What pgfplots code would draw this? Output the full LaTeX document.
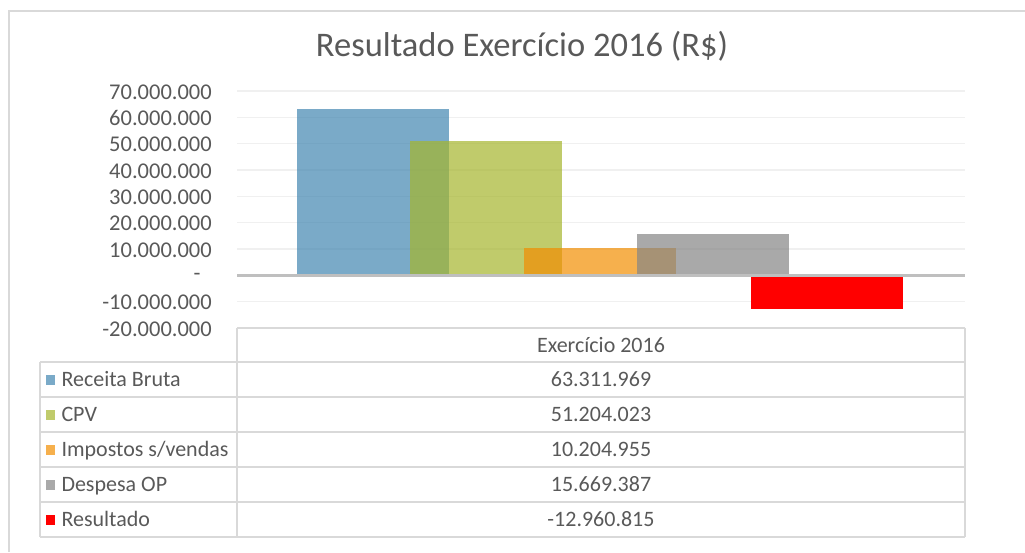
\documentclass[border=0pt]{standalone}
\usepackage{fontspec}
\setmainfont{Carlito}
\usepackage{pgfplots}
\pgfplotsset{compat=1.18}
\definecolor{txt}{HTML}{595959}
\definecolor{gridc}{HTML}{F0F0F0}
\definecolor{bord}{HTML}{D9D9D9}
\definecolor{zeroc}{HTML}{BFBFBF}
\definecolor{cblue}{RGB}{65,134,176}
\definecolor{cgreen}{RGB}{165,181,44}
\definecolor{corange}{RGB}{242,142,2}
\definecolor{cgray}{RGB}{133,133,133}
\definecolor{cred}{RGB}{255,0,0}
\begin{document}
\begin{tikzpicture}[x=1pt,y=1pt]
\useasboundingbox (0,0) rectangle (1025,552);
\draw[bord, line width=2pt] (9,0) -- (9,541) -- (1025,541);
\node[anchor=base, text=txt, font=\fontsize{34.5}{40}\selectfont, inner sep=0pt] at (522,495) {Resultado Exercício 2016 (R\$)};
\begin{axis}[
  at={(237pt,224pt)}, anchor=south west,
  width=728pt, height=237pt, scale only axis,
  xmin=-0.5, xmax=0.5, ymin=-20000000, ymax=70000000,
  enlargelimits=false,
  scaled y ticks=false,
  axis line style={draw=none},
  major tick length=0pt,
  xtick=\empty,
  ytick={-20000000,-10000000,0,10000000,20000000,30000000,40000000,50000000,60000000,70000000},
  yticklabels={-20.000.000,-10.000.000,\smash{\raisebox{-4pt}{-}}\hphantom{0},10.000.000,20.000.000,30.000.000,40.000.000,50.000.000,60.000.000,70.000.000},
  yticklabel style={font=\fontsize{22.5}{26}\selectfont, text=txt, inner sep=0pt, anchor=east, xshift=-25pt, yshift=-1pt},
  ymajorgrids, grid style={gridc, line width=1.5pt},
  ybar, bar width=0.20879,
  legend image code/.code={\fill[#1] (0pt,-5pt) rectangle (9pt,5pt);},
  legend cell align=left,
  legend style={at={(axis description cs:-0.26236,-0.14346)}, anchor=north west,
    draw=none, fill=none, inner sep=0pt, outer sep=0pt, row sep=0pt,
    font=\fontsize{22}{26}\selectfont, text=txt,
    nodes={inner sep=0pt, text height=24pt, text depth=11pt},
    /tikz/every odd column/.append style={column sep=6.5pt}},
]
\addplot[fill=cblue, fill opacity=0.7, draw=none, bar shift=-0.3132] coordinates {(0,63311969)};
\addlegendentry{Receita Bruta}
\addplot[fill=cgreen, fill opacity=0.7, draw=none, bar shift=-0.1573] coordinates {(0,51204023)};
\addlegendentry{CPV}
\addplot[fill=corange, fill opacity=0.7, draw=none, bar shift=-0.0014] coordinates {(0,10204955)};
\addlegendentry{Impostos s/vendas}
\addplot[fill=cgray, fill opacity=0.7, draw=none, bar shift=0.1545] coordinates {(0,15669387)};
\addlegendentry{Despesa OP}
\addplot[fill=cred, draw=none, bar shift=0.3104] coordinates {(0,-12960815)};
\addlegendentry{Resultado}
\draw[zeroc, line width=2.7pt] (axis cs:-0.5,0) -- (axis cs:0.5,0);
\end{axis}
% data table
\draw[bord, line width=1.5pt] (237,224) -- (965,224);
\foreach \yy in {190,155,120,85,50,15} {\draw[bord, line width=1.5pt] (40,\yy) -- (965,\yy);}
\draw[bord, line width=1.5pt] (40,190) -- (40,15);
\draw[bord, line width=1.5pt] (237,224) -- (237,15);
\draw[bord, line width=1.5pt] (965,224) -- (965,15);
\begin{scope}[every node/.style={anchor=base, text=txt, font=\fontsize{22}{26}\selectfont, inner sep=0pt}]
\node at (601,200) {Exercício 2016};
\node at (601,166) {63.311.969};
\node at (601,131) {51.204.023};
\node at (601,96) {10.204.955};
\node at (601,61) {15.669.387};
\node at (601,26) {-12.960.815};
\end{scope}
\end{tikzpicture}
\end{document}
